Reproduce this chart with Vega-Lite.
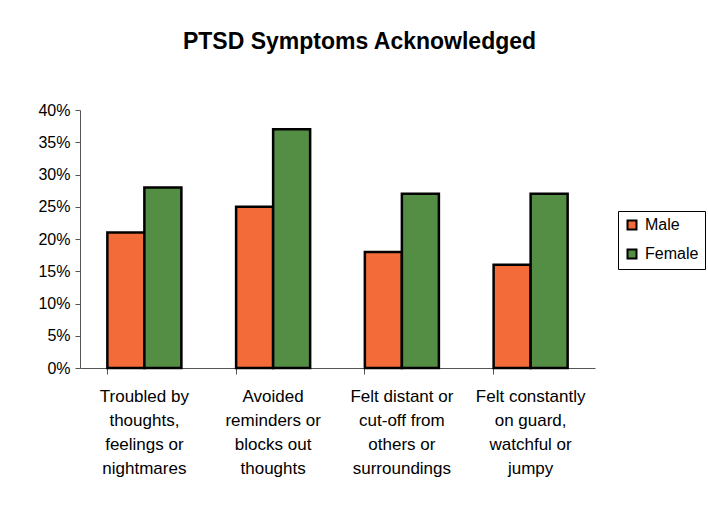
{
  "$schema": "https://vega.github.io/schema/vega-lite/v6.json",
  "autosize": {"type": "none"},
  "padding": {"left": 80, "top": 110, "right": 113, "bottom": 140},
  "width": 515,
  "height": 258,
  "background": "white",
  "title": {
    "text": "PTSD Symptoms Acknowledged",
    "font": "Liberation Sans",
    "fontSize": 23,
    "fontWeight": "bold",
    "color": "black",
    "anchor": "middle",
    "dx": 22,
    "offset": 48
  },
  "data": {
    "values": [
      {"symptom": "Troubled by/thoughts,/feelings or/nightmares", "gender": "Male", "share": 0.21},
      {"symptom": "Troubled by/thoughts,/feelings or/nightmares", "gender": "Female", "share": 0.28},
      {"symptom": "Avoided/reminders or/blocks out/thoughts", "gender": "Male", "share": 0.25},
      {"symptom": "Avoided/reminders or/blocks out/thoughts", "gender": "Female", "share": 0.37},
      {"symptom": "Felt distant or/cut-off from/others or/surroundings", "gender": "Male", "share": 0.18},
      {"symptom": "Felt distant or/cut-off from/others or/surroundings", "gender": "Female", "share": 0.27},
      {"symptom": "Felt constantly/on guard,/watchful or/jumpy", "gender": "Male", "share": 0.16},
      {"symptom": "Felt constantly/on guard,/watchful or/jumpy", "gender": "Female", "share": 0.27}
    ]
  },
  "mark": {"type": "bar", "stroke": "black", "strokeWidth": 2.5},
  "encoding": {
    "x": {
      "field": "symptom",
      "type": "nominal",
      "sort": null,
      "scale": {"paddingInner": 0.425, "paddingOuter": 0.2125},
      "axis": {
        "title": null,
        "labelAngle": 0,
        "labelExpr": "split(datum.label, '/')",
        "labelLineHeight": 24,
        "labelFont": "Liberation Sans",
        "labelFontSize": 17,
        "labelColor": "black",
        "labelPadding": 14,
        "bandPosition": 0,
        "tickSize": 6,
        "tickColor": "#555555",
        "domainColor": "#555555",
        "labelLimit": 200
      }
    },
    "xOffset": {"field": "gender", "type": "nominal", "scale": {"domain": ["Male", "Female"]}},
    "y": {
      "field": "share",
      "type": "quantitative",
      "scale": {"domain": [0, 0.4], "nice": false},
      "axis": {
        "title": null,
        "format": ".0%",
        "values": [0, 0.05, 0.1, 0.15, 0.2, 0.25, 0.3, 0.35, 0.4],
        "grid": false,
        "labelFont": "Liberation Sans",
        "labelFontSize": 16,
        "labelColor": "black",
        "labelPadding": 5,
        "tickSize": 5,
        "tickColor": "#555555",
        "domainColor": "#555555"
      }
    },
    "color": {
      "field": "gender",
      "type": "nominal",
      "scale": {"domain": ["Male", "Female"], "range": ["#F26B38", "#548D44"]},
      "legend": {
        "title": null,
        "orient": "none",
        "legendX": 538,
        "legendY": 101,
        "symbolType": "square",
        "symbolSize": 81,
        "symbolStrokeColor": "black",
        "symbolStrokeWidth": 2,
        "labelFont": "Liberation Sans",
        "labelFontSize": 16,
        "labelColor": "black",
        "labelOffset": 5,
        "rowPadding": 11,
        "padding": 6,
        "strokeColor": "black"
      }
    }
  },
  "config": {
    "view": {"stroke": null}
  }
}
